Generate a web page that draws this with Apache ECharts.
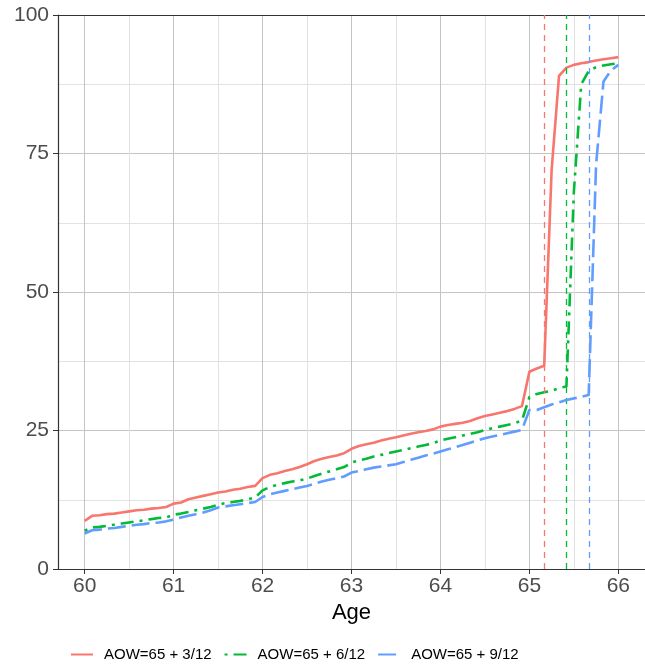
<!DOCTYPE html>
<html><head><meta charset="utf-8">
<script src="https://cdn.jsdelivr.net/npm/echarts@6/dist/echarts.min.js"></script>
<style>html,body{margin:0;padding:0;background:#fff}#c{width:645px;height:670px}</style>
</head><body><div id="c"></div>
<script>
// monthly ages 60 .. 66
const ages = Array.from({length: 73}, (_, i) => 60 + i / 12);
const seriesNames = ['AOW=65 + 3/12', 'AOW=65 + 6/12', 'AOW=65 + 9/12'];
const aow3 = [8.7, 9.6, 9.7, 9.9, 10.0, 10.2, 10.4, 10.6, 10.7, 10.9, 11.0, 11.2,
  11.8, 12.0, 12.6, 12.9, 13.2, 13.5, 13.8, 14.0, 14.3, 14.5, 14.8, 15.0,
  16.4, 17.0, 17.3, 17.7, 18.0, 18.4, 18.9, 19.5, 19.9, 20.2, 20.5, 20.9,
  21.7, 22.2, 22.5, 22.8, 23.2, 23.5, 23.8, 24.1, 24.4, 24.7, 24.9, 25.2,
  25.7, 26.0, 26.2, 26.4, 26.7, 27.2, 27.6, 27.9, 28.2, 28.5, 28.9, 29.4,
  35.6, 36.2, 36.7, 72.0, 89.0, 90.5, 91.0, 91.3, 91.5, 91.8, 92.0, 92.2,
  92.4];
const aow6 = [6.9, 7.5, 7.6, 7.8, 8.0, 8.2, 8.4, 8.6, 8.8, 9.0, 9.2, 9.3,
  9.8, 10.0, 10.3, 10.6, 10.9, 11.2, 11.6, 11.9, 12.1, 12.3, 12.6, 12.9,
  14.2, 14.8, 15.2, 15.5, 15.8, 16.0, 16.3, 16.8, 17.2, 17.6, 18.0, 18.4,
  19.2, 19.6, 19.9, 20.3, 20.6, 20.9, 21.2, 21.5, 21.8, 22.1, 22.4, 22.7,
  23.2, 23.5, 23.8, 24.1, 24.4, 24.7, 25.1, 25.4, 25.7, 26.0, 26.3, 26.8,
  31.0, 31.6, 31.9, 32.2, 32.6, 33.0, 68.0, 87.5, 89.9, 90.6, 90.9, 91.1,
  91.3];
const aow9 = [6.4, 7.0, 7.1, 7.3, 7.4, 7.6, 7.8, 8.0, 8.1, 8.3, 8.4, 8.6,
  8.9, 9.3, 9.6, 9.9, 10.2, 10.6, 11.1, 11.3, 11.5, 11.7, 11.9, 12.1,
  13.0, 13.5, 13.8, 14.1, 14.4, 14.7, 15.0, 15.4, 15.8, 16.1, 16.4, 16.7,
  17.4, 17.7, 18.0, 18.3, 18.5, 18.7, 18.9, 19.3, 19.7, 20.1, 20.5, 20.8,
  21.2, 21.6, 22.0, 22.4, 22.8, 23.2, 23.6, 23.9, 24.2, 24.5, 24.8, 25.1,
  28.7, 28.7, 29.2, 29.7, 30.1, 30.5, 30.8, 31.1, 31.4, 73.0, 88.0, 90.0,
  91.0];
const refAges = [65.1667, 65.4167, 65.6667];
const xMinTick = 60, xMaxTick = 66, xStep = 1;
const yMin = 0, yMax = 100, yStep = 25;

// layout
const W = 645, H = 670;
const L = 58, R = 645, T = 15, B = 569;
const xPad = 0.3;
const pxPerUnit = (R - L) / (xMaxTick - xMinTick + 2 * xPad);
const gALeft = L + xPad * pxPerUnit;
const gARight = (W - R) + xPad * pxPerUnit;

const colors = ['#F8766D', '#00BA38', '#619CFF'];
const dashes = ['solid', [3, 6, 13, 6], [18, 6]];
const values = [aow3, aow6, aow9];
const font = 'Liberation Sans, Arial, Helvetica, sans-serif';

const series = values.map((v, i) => ({
  name: seriesNames[i],
  type: 'line',
  xAxisIndex: 2, yAxisIndex: 1,
  data: ages.map((a, j) => [a, v[j]]),
  symbol: 'none',
  smooth: false,
  color: colors[i],
  lineStyle: {color: colors[i], width: 2.6, type: dashes[i], cap: 'butt', join: 'round'},
  z: 3 + i,
  markLine: {
    symbol: 'none', silent: true, animation: false,
    label: {show: false},
    lineStyle: {color: colors[i], type: [6, 5], width: 1.3},
    data: [{xAxis: refAges[i]}]
  }
}));

const chart = echarts.init(document.getElementById('c'), null, {renderer: 'canvas'});
chart.setOption({
  animation: false,
  backgroundColor: '#fff',
  textStyle: {fontFamily: font},
  grid: [
    {left: L, right: W - R, top: T, bottom: H - B, containLabel: false},
    {left: gALeft, right: gARight, top: T, bottom: H - B, containLabel: false}
  ],
  xAxis: [
    {gridIndex: 0, type: 'value', min: 0, max: 1, position: 'bottom',
     axisLine: {show: true, lineStyle: {color: '#333', width: 1.2}},
     axisTick: {show: false}, axisLabel: {show: false}, splitLine: {show: false}},
    {gridIndex: 0, type: 'value', min: 0, max: 1, position: 'top',
     axisLine: {show: true, lineStyle: {color: '#333', width: 1.2}},
     axisTick: {show: false}, axisLabel: {show: false}, splitLine: {show: false}},
    {gridIndex: 1, type: 'value', min: xMinTick, max: xMaxTick, interval: xStep,
     axisLine: {show: false},
     axisTick: {show: true, length: 5, lineStyle: {color: '#333', width: 1}},
     axisLabel: {fontSize: 21, color: '#4d4d4d', margin: 7, fontFamily: font},
     splitLine: {show: true, lineStyle: {color: '#c4c4c4', width: 1}},
     minorTick: {show: false, splitNumber: 2},
     minorSplitLine: {show: true, lineStyle: {color: '#e2e2e2', width: 1}},
     name: 'Age', nameLocation: 'middle', nameGap: 21,
     nameTextStyle: {fontSize: 22, color: '#000', fontFamily: font}}
  ],
  yAxis: [
    {gridIndex: 0, type: 'value', min: yMin, max: yMax, interval: yStep,
     axisLine: {show: true, lineStyle: {color: '#333', width: 1.2}},
     axisTick: {show: true, length: 5, lineStyle: {color: '#333', width: 1}},
     axisLabel: {fontSize: 21, color: '#4d4d4d', margin: 9, fontFamily: font},
     splitLine: {show: true, lineStyle: {color: '#c4c4c4', width: 1}},
     minorTick: {show: false, splitNumber: 2},
     minorSplitLine: {show: true, lineStyle: {color: '#e2e2e2', width: 1}}},
    {gridIndex: 1, type: 'value', min: yMin, max: yMax, show: false}
  ],
  legend: {
    data: seriesNames,
    left: 70, top: 647, padding: 0,
    itemWidth: 22, itemHeight: 14, itemGap: 12,
    itemStyle: {opacity: 0, borderWidth: 0},
    textStyle: {fontSize: 15, color: '#000', fontFamily: font, padding: [0, 0, 0, 6]}
  },
  series: series
});
</script>
</body></html>
